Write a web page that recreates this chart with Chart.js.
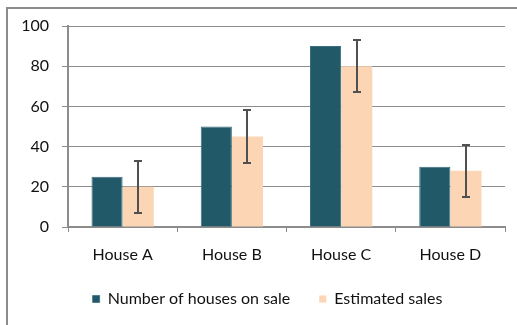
<!DOCTYPE html>
<html>
<head>
<meta charset="utf-8">
<script src="https://cdn.jsdelivr.net/npm/chart.js@4/dist/chart.umd.min.js"></script>
<style>
  html, body { margin: 0; padding: 0; background: #fff; }
  #wrap { position: relative; width: 517px; height: 325px; overflow: hidden; }
  #frame { position: absolute; left: 6px; top: 7px; width: 600px; height: 400px;
           border-left: 2px solid #8c8c8c; border-top: 2px solid #8c8c8c; }
  canvas { position: absolute; left: 0; top: 0; }
</style>
</head>
<body>
<div id="wrap">
  <div id="frame"></div>
  <canvas id="salesChart" width="517" height="325"></canvas>
</div>
<script>
const houses = ["House A", "House B", "House C", "House D"];
const onSale = [25, 50, 90, 30];
const estimated = [20, 45, 80, 28];
const estimatedError = [13, 13, 13, 13];
const yTicks = [0, 20, 40, 60, 80, 100];

const darkTeal = "#215968";
const peach = "#fcd5b5";

// draws +/- error whiskers on the estimated series
const errorBars = {
  id: "errorBars",
  afterDatasetsDraw(chart) {
    const meta = chart.getDatasetMeta(1);
    const y = chart.scales.y;
    const ctx = chart.ctx;
    ctx.save();
    ctx.strokeStyle = "#505050";
    ctx.lineWidth = 2;
    meta.data.forEach((bar, i) => {
      const top = Math.round(y.getPixelForValue(estimated[i] + estimatedError[i]));
      const bottom = Math.round(y.getPixelForValue(estimated[i] - estimatedError[i]));
      const x = Math.round(bar.x);
      ctx.beginPath();
      ctx.moveTo(x, top);
      ctx.lineTo(x, bottom);
      ctx.moveTo(x - 4, top);
      ctx.lineTo(x + 4, top);
      ctx.moveTo(x - 4, bottom);
      ctx.lineTo(x + 4, bottom);
      ctx.stroke();
    });
    ctx.restore();
  },
};

// nudge the legend row a little to the right of the canvas centre
const legendShift = {
  id: "legendShift",
  afterLayout(chart) {
    chart.legend.left += 15;
    chart.legend.right += 15;
  },
};

const ctx = document.getElementById("salesChart").getContext("2d");
new Chart(ctx, {
  type: "bar",
  data: {
    labels: houses,
    datasets: [
      {
        label: "Number of houses on sale",
        data: onSale,
        backgroundColor: darkTeal,
        borderColor: "#3b6f7d",
        borderWidth: { top: 1, left: 1, right: 1, bottom: 0 },
        categoryPercentage: 0.57,
        barPercentage: 1,
      },
      {
        label: "Estimated sales",
        data: estimated,
        backgroundColor: peach,
        categoryPercentage: 0.57,
        barPercentage: 1,
      },
    ],
  },
  options: {
    responsive: false,
    animation: false,
    layout: { padding: { top: 26, right: 12, bottom: 8, left: 0 } },
    plugins: {
      tooltip: { enabled: false },
      legend: {
        position: "bottom",
        labels: {
          boxWidth: 7,
          boxHeight: 7,
          padding: 29,
          color: "#111",
          font: { family: "Lato", size: 16 },
        },
      },
    },
    scales: {
      x: {
        afterFit(scale) { scale.height = 35; },
        grid: {
          offset: true,
          drawOnChartArea: false,
          color: "#8c8c8c",
          tickLength: 5,
        },
        border: { color: "#8c8c8c", width: 2 },
        ticks: { color: "#111", padding: 13, font: { family: "Lato", size: 16 } },
      },
      y: {
        min: 0,
        max: 100,
        afterFit(scale) { scale.width = 68; },
        afterBuildTicks(scale) { scale.ticks = yTicks.map((v) => ({ value: v })); },
        grid: { color: "#8c8c8c", tickLength: 6 },
        border: { color: "#8c8c8c", width: 2 },
        ticks: { color: "#111", padding: 13, font: { family: "Lato", size: 16 } },
      },
    },
  },
  plugins: [errorBars, legendShift],
});
</script>
</body>
</html>
